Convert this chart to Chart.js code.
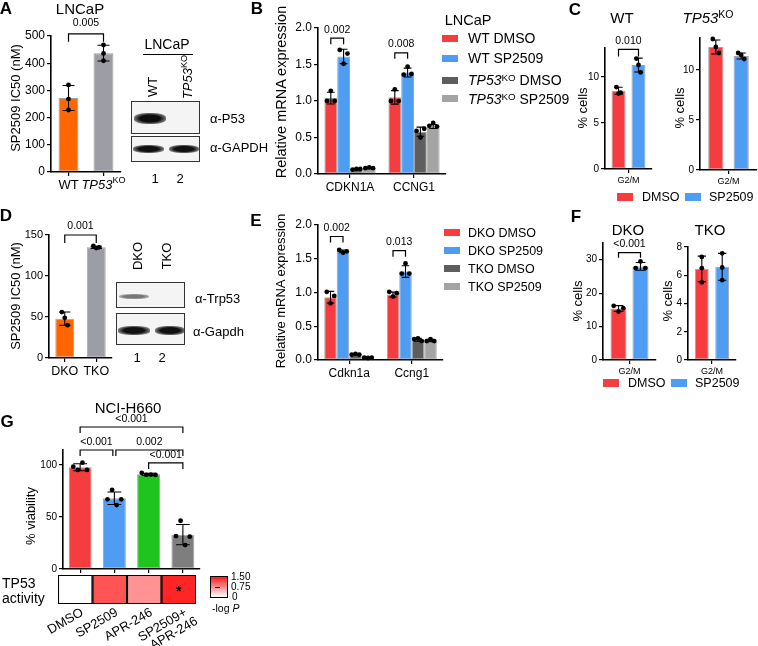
<!DOCTYPE html>
<html><head><meta charset="utf-8">
<script src="https://cdn.jsdelivr.net/npm/chart.js@4.4.1/dist/chart.umd.min.js"></script>
<style>
html,body{margin:0;padding:0;background:#fff}
body{width:758px;height:646px;position:relative;overflow:hidden;font-family:"Liberation Sans",Arial,Helvetica,sans-serif;color:#000}
canvas.full{position:absolute;left:0;top:0}
.t{position:absolute;white-space:nowrap;line-height:1}
.sw{position:absolute;width:16px;height:7px}
.blot{position:absolute;border:1.3px solid #333;background:#f4f4f4;box-sizing:border-box;overflow:hidden}
.band{position:absolute;border-radius:40%}
sup{font-size:0.7em;vertical-align:0.45em;line-height:0}
</style>
</head><body>
<div id="charts"></div>
<div id="texts"></div>
<script>
// ---------------- DATA ----------------
// Panel A
const aCats = ['WT', 'TP53KO'];
const aIC50 = [272, 437];
const aReps = [[320, 268, 228], [467, 436, 409]];
// Panel B
const bGenes = ['CDKN1A', 'CCNG1'];
const bSeries = ['WT DMSO', 'WT SP2509', 'TP53KO DMSO', 'TP53KO SP2509'];
const bWtDmso = [1.04, 1.05];
const bWtSp = [1.61, 1.39];
const bKoDmso = [0.07, 0.58];
const bKoSp = [0.08, 0.65];
const bWtDmsoReps = [[1.00, 1.14, 1.00], [1.00, 1.16, 1.00]];
const bWtSpReps = [[1.70, 1.51, 1.65], [1.36, 1.47, 1.37]];
const bKoDmsoReps = [[0.06, 0.07, 0.07], [0.59, 0.50, 0.62]];
const bKoSpReps = [[0.08, 0.09, 0.08], [0.66, 0.70, 0.65]];
// Panel C
const cPhase = ['G2/M'];
const cWtDmso = [8.5], cWtSp = [11.3];
const cWtDmsoReps = [[8.9, 8.2, 8.3]], cWtSpReps = [[12.0, 11.3, 10.5]];
const cKoDmso = [12.3], cKoSp = [11.4];
const cKoDmsoReps = [[13.1, 12.3, 11.7]], cKoSpReps = [[11.7, 11.5, 11.1]];
// Panel D
const dCats = ['DKO', 'TKO'];
const dIC50 = [48, 135];
const dReps = [[56, 49, 40], [136.6, 134, 135]];
// Panel E
const eGenes = ['Cdkn1a', 'Ccng1'];
const eSeries = ['DKO DMSO', 'DKO SP2509', 'TKO DMSO', 'TKO SP2509'];
const eDkoDmso = [0.93, 0.97];
const eDkoSp = [1.61, 1.31];
const eTkoDmso = [0.08, 0.30];
const eTkoSp = [0.035, 0.29];
const eDkoDmsoReps = [[1.01, 0.84, 0.95], [1.01, 0.94, 0.99]];
const eDkoSpReps = [[1.63, 1.59, 1.61], [1.28, 1.43, 1.28]];
const eTkoDmsoReps = [[0.08, 0.09, 0.08], [0.31, 0.32, 0.28]];
const eTkoSpReps = [[0.035, 0.03, 0.035], [0.28, 0.31, 0.28]];
// Panel F
const fPhase = ['G2/M'];
const fDkoDmso = [15.4], fDkoSp = [28.0];
const fDkoDmsoReps = [[16.2, 14.5, 15.5]], fDkoSpReps = [[27.5, 29.5, 27.5]];
const fTkoDmso = [6.45], fTkoSp = [6.6];
const fTkoDmsoReps = [[7.3, 6.5, 5.5]], fTkoSpReps = [[7.55, 6.55, 5.65]];
// Panel G
const gTreatments = ['DMSO', 'SP2509', 'APR-246', 'SP2509+ APR-246'];
const gViability = [97.8, 68, 91, 33];
const gReps = [[98.4, 95.2, 102.2, 95.2], [67, 76, 61.5, 67], [92.5, 90.4, 90.8, 90.4], [31.7, 46.4, 23, 31.1]];
const gTp53Activity = [0, 1.08, 0.68, 1.38];
const gStars = ['', '', '', '*'];

// ---------------- STYLE ----------------
const W = 758, H = 646;
const FONT = "'Liberation Sans', Arial, Helvetica, sans-serif";
const RED = '#F53D40', BLUE = '#4F9CF3', ORANGE = '#FF6600', GREYA = '#9D9DA5';
const DARK = '#5E5E5E', LIGHT = '#A4A4A4', GREEN = '#1FC41F', GCOMBO = '#7E7E7E';
const EDGE = 'rgba(90,90,90,0.55)';
Chart.defaults.font.family = FONT;
Chart.defaults.color = '#000';
Chart.defaults.animation = false;
Chart.defaults.plugins.legend.display = false;
Chart.defaults.plugins.tooltip.enabled = false;

function sd(r){const n=r.length,m=r.reduce((a,b)=>a+b,0)/n;return Math.sqrt(r.reduce((a,b)=>a+(b-m)*(b-m),0)/(n-1));}

function drawRich(ctx, segs, cx, cy, size){
  const fonts = segs.map(s => (s[1]==='i'?'italic ':'') + ((s[1]==='sup')?size*0.7:size) + 'px ' + FONT);
  let tot = 0; const ws = segs.map((s,k)=>{ctx.font=fonts[k]; const w=ctx.measureText(s[0]).width; tot+=w; return w;});
  let x = cx - tot/2;
  ctx.textAlign='left'; ctx.textBaseline='middle';
  segs.forEach((s,k)=>{ctx.font=fonts[k]; ctx.fillText(s[0], x, cy + (s[1]==='sup'? -size*0.35:0)); x+=ws[k];});
}

function extras(ex){
  return {id:'extras', afterDatasetsDraw(chart){
    const ctx=chart.ctx, ys=chart.scales.y, xs=chart.scales.x;
    ctx.save();
    ctx.strokeStyle='#000'; ctx.fillStyle='#000';
    (ex.reps||[]).forEach((dsReps,di)=>{
      if(!dsReps) return;
      const meta=chart.getDatasetMeta(di);
      dsReps.forEach((r,i)=>{
        if(!r||!r.length) return;
        const el=meta.data[i], m=chart.data.datasets[di].data[i], s=sd(r);
        const x=el.x, w=el.width, cap=w*(ex.cap||0.3);
        const y1=ys.getPixelForValue(m+s), y2=ys.getPixelForValue(Math.max(m-s,0));
        ctx.lineWidth=1.1;
        ctx.beginPath(); ctx.moveTo(x,y1); ctx.lineTo(x,y2);
        ctx.moveTo(x-cap,y1); ctx.lineTo(x+cap,y1);
        ctx.moveTo(x-cap,y2); ctx.lineTo(x+cap,y2); ctx.stroke();
        const sp=(ex.spread!=null?ex.spread:0.55)*w, n=r.length;
        r.forEach((v,k)=>{
          const px = x + (n>1 ? (k/(n-1)-0.5)*sp : 0);
          ctx.beginPath(); ctx.arc(px, ys.getPixelForValue(v), ex.dot||2.4, 0, Math.PI*2); ctx.fill();
        });
      });
    });
    (ex.brackets||[]).forEach(b=>{
      const xa=chart.getDatasetMeta(b.a[0]).data[b.a[1]].x+(b.ia||0);
      const xb=chart.getDatasetMeta(b.b[0]).data[b.b[1]].x+(b.ib||0);
      const yp=ys.getPixelForValue(b.y), leg=b.leg||6;
      ctx.lineWidth=1.2;
      ctx.beginPath(); ctx.moveTo(xa,yp+leg); ctx.lineTo(xa,yp); ctx.lineTo(xb,yp); ctx.lineTo(xb,yp+leg); ctx.stroke();
      ctx.font=(ex.pSize||10.5)+'px '+FONT; ctx.textAlign='center'; ctx.textBaseline='bottom';
      ctx.fillText(b.label,(xa+xb)/2, yp-(b.gap||3));
    });
    if(ex.richX){ ex.richX.forEach((segs,i)=>drawRich(ctx, segs, xs.getPixelForValue(i), xs.top+(ex.richDy||13), ex.richSize||12.5)); }
    if(ex.rotX){
      const o=ex.rotX;
      ctx.font=o.size+'px '+FONT; ctx.textAlign='right'; ctx.textBaseline='top';
      chart.data.labels.forEach((lab,i)=>{
        const lines=Array.isArray(lab)?lab:[lab];
        ctx.save();
        ctx.translate(xs.getPixelForValue(i)+o.dx, xs.top+o.dy);
        ctx.rotate(o.angle*Math.PI/180);
        lines.forEach((ln,k)=>ctx.fillText(ln, k*o.shift, k*o.lh));
        ctx.restore();
      });
    }
    if(ex.stars){
      const meta=chart.getDatasetMeta(0);
      ctx.font='bold 14px '+FONT; ctx.textAlign='center'; ctx.textBaseline='middle';
      ex.stars.forEach((s,i)=>{ if(s){const el=meta.data[i]; ctx.fillText(s, el.x, (el.y+el.base)/2+3);} });
    }
    ctx.restore();
  }};
}

function yAx(max, step, size, dec){
  return {type:'linear', min:0, max:max,
    ticks:{stepSize:step, includeBounds:false, font:{size:size}, color:'#000', padding:2,
      callback:v=> dec!=null ? Number(v).toFixed(dec) : v},
    grid:{drawOnChartArea:false, drawTicks:true, tickLength:4, color:'#000', lineWidth:1.2},
    border:{display:true, color:'#000', width:1.6}};
}
function xAx(size, show){
  return {type:'category', offset:true,
    ticks:{display:show, font:{size:size}, color:'#000', padding:2, maxRotation:0, minRotation:0},
    grid:{offset:false, drawOnChartArea:false, drawTicks:true, tickLength:4, color:'#000', lineWidth:1.2},
    border:{display:true, color:'#000', width:1.6}};
}
function mk(area, cfg, ex, yw, xh){
  yw = yw==null?40:yw; xh = xh==null?30:xh;
  const c=document.createElement('canvas'); c.width=W; c.height=H; c.className='full';
  document.getElementById('charts').appendChild(c);
  cfg.options.responsive=false; cfg.options.maintainAspectRatio=false;
  cfg.options.layout={padding:{left:area.l-yw, top:area.t, right:W-area.r, bottom:H-area.b-xh}};
  if(cfg.options.scales.y.display!==false) cfg.options.scales.y.afterFit=s=>{s.width=yw;};
  cfg.options.scales.x.afterFit=s=>{s.height=xh;};
  cfg.plugins=[extras(ex||{})];
  return new Chart(c,cfg);
}
function ds(label, data, color, bp, cp){
  return {label:label, data:data, backgroundColor:color, borderColor:EDGE, borderWidth:1, borderSkipped:false, barPercentage:bp, categoryPercentage:cp};
}

// ---------------- CHARTS ----------------
// A
mk({l:51,t:36,r:121,b:172}, {type:'bar',
  data:{labels:aCats, datasets:[ds('IC50', aIC50, [ORANGE, GREYA], 0.57, 1)]},
  options:{scales:{x:xAx(12,false), y:yAx(500,100,12)}}},
  {reps:[aReps], spread:0, brackets:[{a:[0,0],b:[0,1],y:508,leg:8,label:'0.005',gap:5}],
   richX:[[['WT','']],[['TP53','i'],['KO','sup']]], richSize:13, richDy:13});
// B
mk({l:318,t:28,r:446,b:174}, {type:'bar',
  data:{labels:bGenes, datasets:[
    ds(bSeries[0], bWtDmso, RED, 1, 0.8), ds(bSeries[1], bWtSp, BLUE, 1, 0.8),
    ds(bSeries[2], bKoDmso, DARK, 1, 0.8), ds(bSeries[3], bKoSp, LIGHT, 1, 0.8)]},
  options:{scales:{x:xAx(12,true), y:yAx(2,0.5,12,1)}}},
  {reps:[bWtDmsoReps, bWtSpReps, bKoDmsoReps, bKoSpReps], spread:0.6,
   brackets:[{a:[0,0],b:[1,0],y:1.86,leg:6,label:'0.002'},{a:[0,1],b:[1,1],y:1.66,leg:6,label:'0.008'}]});
// C WT
mk({l:605,t:48,r:652,b:169}, {type:'bar',
  data:{labels:cPhase, datasets:[ds('DMSO', cWtDmso, RED, 0.7, 0.85), ds('SP2509', cWtSp, BLUE, 0.7, 0.85)]},
  options:{scales:{x:xAx(9,true), y:yAx(13.15,5,10)}}},
  {reps:[cWtDmsoReps, cWtSpReps], spread:0.3, brackets:[{a:[0,0],b:[1,0],y:13.0,leg:7,label:'0.010'}]});
// C TP53KO
mk({l:700,t:38,r:757,b:170}, {type:'bar',
  data:{labels:cPhase, datasets:[ds('DMSO', cKoDmso, RED, 0.6, 0.89), ds('SP2509', cKoSp, BLUE, 0.6, 0.89)]},
  options:{scales:{x:xAx(9,true), y:yAx(13.2,5,10)}}},
  {reps:[cKoDmsoReps, cKoSpReps], spread:0.4});
// D
mk({l:49,t:235,r:112,b:358}, {type:'bar',
  data:{labels:dCats, datasets:[ds('IC50', dIC50, [ORANGE, GREYA], 0.6, 1)]},
  options:{scales:{x:xAx(12.5,true), y:yAx(150,50,11)}}},
  {reps:[dReps], spread:0.3, brackets:[{a:[0,0],b:[0,1],y:150,leg:8,label:'0.001',gap:4}]});
// E
mk({l:318,t:225,r:443,b:360}, {type:'bar',
  data:{labels:eGenes, datasets:[
    ds(eSeries[0], eDkoDmso, RED, 1, 0.8), ds(eSeries[1], eDkoSp, BLUE, 1, 0.8),
    ds(eSeries[2], eTkoDmso, DARK, 1, 0.8), ds(eSeries[3], eTkoSp, LIGHT, 1, 0.8)]},
  options:{scales:{x:xAx(12,true), y:yAx(2,0.5,12,1)}}},
  {reps:[eDkoDmsoReps, eDkoSpReps, eTkoDmsoReps, eTkoSpReps], spread:0.6,
   brackets:[{a:[0,0],b:[1,0],y:1.83,leg:6,label:'0.002'},{a:[0,1],b:[1,1],y:1.62,leg:6,label:'0.013'}]});
// F DKO
mk({l:603,t:243,r:656,b:360}, {type:'bar',
  data:{labels:fPhase, datasets:[ds('DMSO', fDkoDmso, RED, 0.73, 0.83), ds('SP2509', fDkoSp, BLUE, 0.73, 0.83)]},
  options:{scales:{x:xAx(9,true), y:yAx(35,10,10)}}},
  {reps:[fDkoDmsoReps, fDkoSpReps], spread:0.6, brackets:[{a:[0,0],b:[1,0],y:32.1,leg:5,label:'<0.001'}]});
// F TKO
mk({l:688,t:247,r:736,b:360}, {type:'bar',
  data:{labels:fPhase, datasets:[ds('DMSO', fTkoDmso, RED, 0.68, 0.85), ds('SP2509', fTkoSp, BLUE, 0.68, 0.85)]},
  options:{scales:{x:xAx(9,true), y:yAx(8,2,10)}}},
  {reps:[fTkoDmsoReps, fTkoSpReps], spread:0});
// G viability
mk({l:63,t:450,r:200,b:569}, {type:'bar',
  data:{labels:gTreatments, datasets:[ds('viability', gViability, [RED, BLUE, GREEN, GCOMBO], 0.67, 1)]},
  options:{scales:{x:xAx(10,false), y:yAx(114.4,50,10)}}},
  {reps:[gReps], spread:0.6, brackets:[
    {a:[0,0],b:[0,3],y:136.5,leg:6,label:'<0.001'},
    {a:[0,0],b:[0,1],ib:-1.5,y:114.4,leg:6,label:'<0.001'},
    {a:[0,1],b:[0,3],ia:1.5,y:114.4,leg:6,label:'0.002'},
    {a:[0,2],b:[0,3],y:102,leg:6,label:'<0.001'}]});
// G heatmap (TP53 activity, -log P)
function heat(v){const t=Math.min(Math.max(v/1.5,0),1);const g=Math.round(255*(1-t*0.93));return 'rgb(255,'+g+','+g+')';}
mk({l:58,t:575,r:196,b:604}, {type:'bar',
  data:{labels:gTreatments.map(s=>s.indexOf(' ')>0&&s.indexOf('+')>0?s.split(' '):s),
    datasets:[{data:gTreatments.map(()=>1), backgroundColor:gTp53Activity.map(heat), borderColor:'#000', borderWidth:1.4, borderSkipped:false, barPercentage:1, categoryPercentage:1}]},
  options:{scales:{
    x:{type:'category', offset:true, ticks:{display:false}, grid:{display:false}, border:{display:false}},
    y:{display:false, min:0, max:1}}}},
  {stars:gStars, rotX:{size:13, angle:-30, dx:4, dy:2, lh:13, shift:5}}, 0, 30);

// ---------------- TEXT ----------------
const tx=document.getElementById('texts');
function T(x,y,html,size,o){
  o=o||{};
  const d=document.createElement('div'); d.className='t'; d.innerHTML=html;
  d.style.left=x+'px'; d.style.top=y+'px'; d.style.fontSize=size+'px';
  if(o.bold) d.style.fontWeight='bold';
  if(o.italic) d.style.fontStyle='italic';
  let tr = o.left ? 'translate(0,-50%)' : 'translate(-50%,-50%)';
  if(o.rot) tr += ' rotate('+o.rot+'deg)';
  d.style.transform=tr;
  tx.appendChild(d); return d;
}
function SW(x,y,c,w,h){const d=document.createElement('div'); d.className='sw'; d.style.left=x+'px'; d.style.top=y+'px'; d.style.background=c; if(w)d.style.width=w+'px'; if(h)d.style.height=h+'px'; tx.appendChild(d);}
function BOX(x,y,w,h,bands){const b=document.createElement('div'); b.className='blot'; b.style.left=x+'px'; b.style.top=y+'px'; b.style.width=w+'px'; b.style.height=h+'px';
  bands.forEach(bd=>{const e=document.createElement('div'); e.className='band'; e.style.left=bd[0]+'px'; e.style.top=bd[1]+'px'; e.style.width=bd[2]+'px'; e.style.height=bd[3]+'px';
    e.style.background='radial-gradient(ellipse at center, '+bd[4]+' 0%, '+bd[4]+' 45%, rgba(0,0,0,0) 100%)'; b.appendChild(e);});
  tx.appendChild(b);}

// panel letters
T(6,8,'A',17,{bold:true}); T(257,8,'B',17,{bold:true}); T(575,9,'C',17,{bold:true});
T(6,215,'D',17,{bold:true}); T(256,220,'E',17,{bold:true}); T(576,216,'F',17,{bold:true}); T(7,421,'G',17,{bold:true});
// A
T(80,8,'LNCaP',15);
T(15,98,'SP2509 IC50 (nM)',13,{rot:-90});
T(167,44,'LNCaP',14);
(function(){const l=document.createElement('div'); l.style.cssText='position:absolute;left:143px;top:54px;width:50px;height:1px;background:#000'; tx.appendChild(l);})();
T(152,87,'WT',13,{rot:-90}); T(187,77,'<i>TP53</i><sup>KO</sup>',13,{rot:-90});
BOX(131,101,69,33,[[2,11,32,11,'#0d0d0d']]);
BOX(131,136,69,26,[[1,8,31,8,'#111'],[37,8,30,8,'#111']]);
T(210,118,'α-P53',13,{left:true}); T(210,147,'α-GAPDH',13,{left:true});
T(155,178,'1',13); T(180,178,'2',13);
// B
T(281,92,'Relative mRNA expression',14.5,{rot:-90});
T(468,20,'LNCaP',14.5);
SW(442,35,RED); SW(442,55,BLUE); SW(442,77,DARK); SW(442,95,LIGHT);
T(468,38,'WT DMSO',14,{left:true}); T(468,58,'WT SP2509',14,{left:true});
T(468,80,'<i>TP53</i><sup>KO</sup> DMSO',14,{left:true}); T(468,99,'<i>TP53</i><sup>KO</sup> SP2509',14,{left:true});
// C
T(622,17,'WT',15); T(708,17,'<i>TP53</i><sup>KO</sup>',15);
T(582,108,'% cells',13,{rot:-90}); T(679,108,'% cells',13,{rot:-90});
SW(617,193,RED,16,8); T(642,197,'DMSO',12.5,{left:true});
SW(685,193,BLUE,16,8); T(709,197,'SP2509',12.5,{left:true});
// D
T(15,296,'SP2509 IC50 (nM)',13,{rot:-90});
T(137,256,'DKO',13,{rot:-90}); T(166,256,'TKO',13,{rot:-90});
BOX(116,282,69,26,[[2,11,30,5,'#777']]);
BOX(116,313,69,32,[[1,12,32,9,'#111'],[38,12,30,9,'#111']]);
T(195,298,'α-Trp53',13,{left:true}); T(193,331,'α-Gapdh',13,{left:true});
T(137,357,'1',13); T(162,357,'2',13);
// E
T(280,291,'Relative mRNA expression',13,{rot:-90});
SW(444,229,RED); SW(444,247,BLUE); SW(444,265,DARK); SW(444,283,LIGHT);
T(468,233,'DKO DMSO',12.5,{left:true}); T(468,251,'DKO SP2509',12.5,{left:true});
T(468,269,'TKO DMSO',12.5,{left:true}); T(468,287,'TKO SP2509',12.5,{left:true});
// F
T(628,229,'DKO',15); T(710,229,'TKO',15);
T(577,301,'% cells',13,{rot:-90}); T(667,301,'% cells',13,{rot:-90});
SW(603,379,RED,16,8); T(628,383,'DMSO',12.5,{left:true});
SW(671,379,BLUE,16,8); T(695,383,'SP2509',12.5,{left:true});
// G
T(128,407,'NCI-H660',15);
T(30,516,'% viability',13,{rot:-90});
T(2,583,'TP53',14,{left:true}); T(2,598,'activity',14,{left:true});
(function(){const g=document.createElement('div'); g.style.cssText='position:absolute;left:210px;top:576px;width:18px;height:22px;border:1px solid #000;box-sizing:border-box;background:linear-gradient(to bottom,#ff1a1a,#ffffff)'; tx.appendChild(g);
 const dsh=document.createElement('div'); dsh.style.cssText='position:absolute;left:215px;top:587px;width:5px;height:1px;background:#000'; tx.appendChild(dsh);})();
T(231,577,'1.50',10,{left:true}); T(231,587,'0.75',10,{left:true}); T(232,597,'0',10,{left:true});
T(212,608,'-log <i>P</i>',10.5,{left:true});
</script>
</body></html>
